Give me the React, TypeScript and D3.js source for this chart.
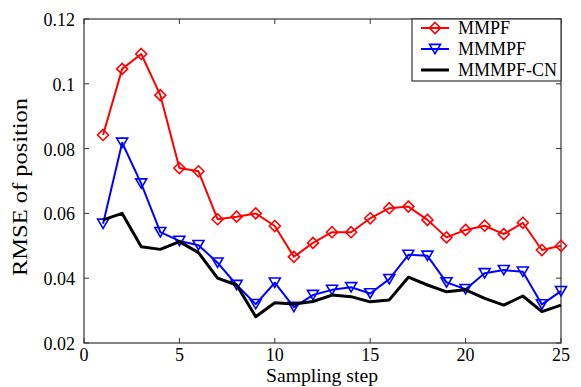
import React from 'react';
import * as d3 from 'd3';

const steps = d3.range(1, 26);
const mmpf = [0.0842, 0.1046, 0.1092, 0.0965, 0.074, 0.073, 0.0582, 0.059, 0.060, 0.0561, 0.0466, 0.0509,
  0.0542, 0.0542, 0.0585, 0.0616, 0.0621, 0.058, 0.0526, 0.0549, 0.0562, 0.0536, 0.0571, 0.0487, 0.0500];
const mmmpf = [0.0568, 0.0818, 0.0692, 0.0542, 0.0515, 0.0502, 0.0448, 0.0379, 0.032, 0.0386, 0.0311, 0.0348,
  0.0364, 0.0372, 0.0353, 0.0397, 0.0472, 0.0469, 0.0387, 0.0366, 0.0415, 0.0425, 0.042, 0.0319, 0.036];
const mmmpfCn = [0.058, 0.060, 0.0497, 0.0489, 0.0513, 0.0479, 0.040, 0.0379, 0.0281, 0.0324, 0.032, 0.0328,
  0.0348, 0.0343, 0.0327, 0.0333, 0.0403, 0.0379, 0.0358, 0.0364, 0.0338, 0.0317, 0.0345, 0.0297, 0.0317];
const xTicks = [0, 5, 10, 15, 20, 25];
const yTicks = [0.02, 0.04, 0.06, 0.08, 0.1, 0.12];
const seriesNames = ['MMPF', 'MMMPF', 'MMMPF-CN'];

const W = 581, H = 387;
const left = 84, right = 561, top = 19, bottom = 343;
const font = '"Liberation Serif", "Times New Roman", serif';

const diamond = (cx: number, cy: number, r = 5.5) =>
  `M${cx},${cy - r}L${cx + r},${cy}L${cx},${cy + r}L${cx - r},${cy}Z`;
const triDown = (cx: number, cy: number, r = 5.5) =>
  `M${cx - r},${cy - r * 0.85}L${cx + r},${cy - r * 0.85}L${cx},${cy + r * 0.85}Z`;

export default function App() {
  const x = d3.scaleLinear().domain([0, 25]).range([left, right]);
  const y = d3.scaleLinear().domain([0.02, 0.12]).range([bottom, top]);
  const line = d3.line<number>().x((_, i) => x(steps[i])).y((d) => y(d));

  const series = [
    { name: seriesNames[0], data: mmpf, color: '#ff0000', width: 2, marker: diamond },
    { name: seriesNames[1], data: mmmpf, color: '#0000ff', width: 2, marker: triDown },
    { name: seriesNames[2], data: mmmpfCn, color: '#000000', width: 3, marker: null },
  ];

  const axisColor = '#333';
  const legX = 412, legY = 19, legW = right - 412, legH = 62;

  return (
    <svg width={W} height={H} style={{ position: 'absolute', left: 0, top: 0, background: '#fff' }}
      fontFamily={font}>
      {/* frame */}
      <rect x={left} y={top} width={right - left} height={bottom - top} fill="none" stroke={axisColor} strokeWidth={1.2} />
      {xTicks.map((t) => (
        <g key={'x' + t}>
          <line x1={x(t)} x2={x(t)} y1={bottom} y2={bottom - 5} stroke={axisColor} />
          <line x1={x(t)} x2={x(t)} y1={top} y2={top + 5} stroke={axisColor} />
          <text x={x(t)} y={bottom + 18} textAnchor="middle" fontSize={18}>{t}</text>
        </g>
      ))}
      {yTicks.map((t) => (
        <g key={'y' + t}>
          <line x1={left} x2={left + 5} y1={y(t)} y2={y(t)} stroke={axisColor} />
          <line x1={right} x2={right - 5} y1={y(t)} y2={y(t)} stroke={axisColor} />
          <text x={left - 9} y={y(t) + 7} textAnchor="end" fontSize={18}>{t === 0.1 ? '0.1' : t.toFixed(2)}</text>
        </g>
      ))}
      <text x={322} y={382} textAnchor="middle" fontSize={19} textLength={112}
        lengthAdjust="spacingAndGlyphs">Sampling step</text>
      <text transform="translate(27, 187) rotate(-90)" textAnchor="middle" fontSize={21}
        textLength={178} lengthAdjust="spacingAndGlyphs">RMSE of position</text>

      {series.map((s) => (
        <g key={s.name}>
          <path d={line(s.data) ?? ''} fill="none" stroke={s.color} strokeWidth={s.width} strokeLinejoin="round" />
          {s.marker && s.data.map((v, i) => (
            <path key={i} d={s.marker!(x(steps[i]), y(v))} fill="none" stroke={s.color} strokeWidth={1.6} />
          ))}
        </g>
      ))}

      {/* legend */}
      <rect x={legX} y={legY} width={legW} height={legH} fill="#fff" stroke={axisColor} strokeWidth={1.2} />
      {series.map((s, i) => {
        const cy = legY + 9 + i * 21;
        return (
          <g key={'leg' + s.name}>
            <line x1={421} x2={449} y1={cy} y2={cy} stroke={s.color} strokeWidth={s.width} />
            {s.marker && <path d={s.marker(435, cy)} fill="none" stroke={s.color} strokeWidth={1.6} />}
            <text x={458} y={cy + 6} fontSize={18}>{s.name}</text>
          </g>
        );
      })}
    </svg>
  );
}
